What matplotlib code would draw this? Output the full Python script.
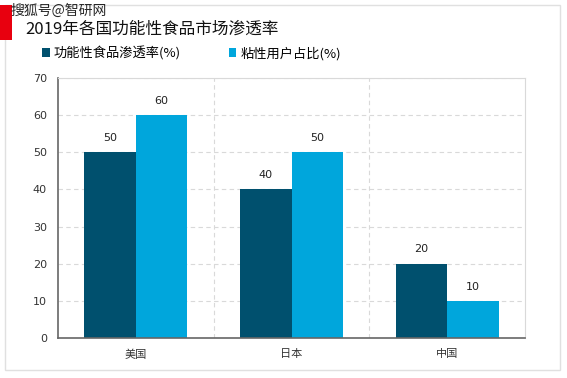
import numpy as np
import matplotlib.pyplot as plt
from matplotlib.patches import Rectangle

plt.rcParams['font.family'] = ['Noto Sans CJK SC', 'DejaVu Sans']

countries = ["美国", "日本", "中国"]
penetration = [50, 40, 20]
stickiness = [60, 50, 10]
series_names = ["功能性食品渗透率(%)", "粘性用户占比(%)"]
title = "2019年各国功能性食品市场渗透率"

DARK = "#00506e"
LIGHT = "#00a6dc"

fig = plt.figure(figsize=(5.67, 3.78), dpi=100)
ax = fig.add_axes([58 / 567, 1 - 338 / 378, (525 - 58) / 567, (338 - 78) / 378])

# outer frame and red tag
fig.patches.append(Rectangle((5 / 567, 1 - 370 / 378), 555 / 567, 365 / 378,
                             transform=fig.transFigure, fill=False, ec="#e0e0e0", lw=1))
fig.patches.append(Rectangle((0, 1 - 40 / 378), 12 / 567, 35 / 378,
                             transform=fig.transFigure, color="#e8000f", lw=0))

x = np.arange(len(countries))
w = 0.33
b1 = ax.bar(x - w / 2, penetration, w, color=DARK, label=series_names[0])
b2 = ax.bar(x + w / 2, stickiness, w, color=LIGHT, label=series_names[1])
for bars in (b1, b2):
    for r in bars:
        ax.text(r.get_x() + r.get_width() / 2, r.get_height() + 2.5, f"{int(r.get_height())}",
                ha="center", va="bottom", fontsize=8, color="#222222", family="DejaVu Sans")

ax.set_xlim(-0.5, 2.5)
ax.set_ylim(0, 70)
ax.set_yticks(range(0, 71, 10))
ax.set_xticks(x)
ax.set_xticklabels(countries, fontsize=8, color="#333333")
ax.tick_params(axis="y", labelsize=8, colors="#333333", length=0, pad=8)
ax.tick_params(axis="x", length=0, pad=8)
for lab in ax.get_yticklabels():
    lab.set_family("DejaVu Sans")

ax.grid(axis="y", ls=(0, (4, 3)), color="#d9d9d9", lw=0.8)
for xv in (0.5, 1.5):
    ax.axvline(xv, ls=(0, (4, 3)), color="#d9d9d9", lw=0.8, zorder=0)
ax.set_axisbelow(True)
for s in ("left", "bottom"):
    ax.spines[s].set_color("#666666")
    ax.spines[s].set_linewidth(1.2)
for s in ("top", "right"):
    ax.spines[s].set_color("#d9d9d9")
    ax.spines[s].set_linewidth(0.8)

fig.text(25 / 567, 1 - 29 / 378, title, fontsize=12, color="#111111", va="center", ha="left")
fig.text(10 / 567, 1 - 11 / 378, "搜狐号@智研网", fontsize=10, color="#000000", va="center",
         ha="left", alpha=0.85)

fig.legend(handles=[b1, b2], labels=series_names, loc="center left",
           bbox_to_anchor=(42 / 567, 1 - 53 / 378), ncol=2, frameon=False, fontsize=9.5,
           handlelength=0.6, handleheight=0.6, columnspacing=3.6, handletextpad=0.3,
           borderaxespad=0, borderpad=0)

fig.savefig("out.png", dpi=100)
